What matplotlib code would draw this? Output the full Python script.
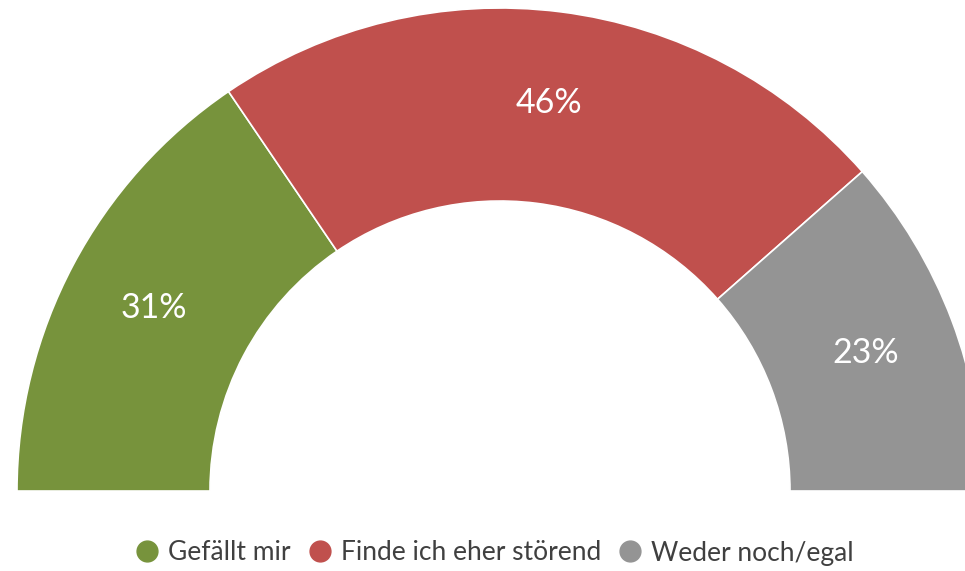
import matplotlib.pyplot as plt
from matplotlib.lines import Line2D

categories = ['Gefällt mir', 'Finde ich eher störend', 'Weder noch/egal']
shares = [31, 46, 23]
colors = ['#77933C', '#C0504D', '#949494']

plt.rcParams['font.family'] = ['Lato', 'DejaVu Sans']

fig = plt.figure(figsize=(9.65, 5.71), dpi=100)
ax = fig.add_axes([0, 0, 1, 1])

# half donut: a hidden wedge takes the lower half
values = shares + [sum(shares)]
wedge_colors = colors + ['none']

def pct_label(p):
    if p >= 50:
        return ''
    return '%d%%' % round(p * 2)

wedges, texts, autotexts = ax.pie(
    values, colors=wedge_colors, startangle=180, counterclock=False,
    center=(500, 80), radius=483, frame=True,
    wedgeprops=dict(width=193, edgecolor='white', linewidth=1.2),
    autopct=pct_label, pctdistance=0.81,
    textprops=dict(color='white', fontsize=24.5))
wedges[-1].set_edgecolor('none')

ax.set_xlim(0, 965)
ax.set_ylim(0, 571)
ax.set_aspect('equal')
ax.axis('off')

handles = [Line2D([], [], marker='o', linestyle='', markersize=15,
                  markerfacecolor=c, markeredgecolor=c) for c in colors]
fig.legend(handles, categories, loc='center', bbox_to_anchor=(494 / 965, 1 - 553 / 571),
           ncol=3, frameon=False, fontsize=19, handletextpad=0.3,
           columnspacing=0.6, labelcolor='#404040', handlelength=1.0)

fig.savefig('out.png', dpi=100)
